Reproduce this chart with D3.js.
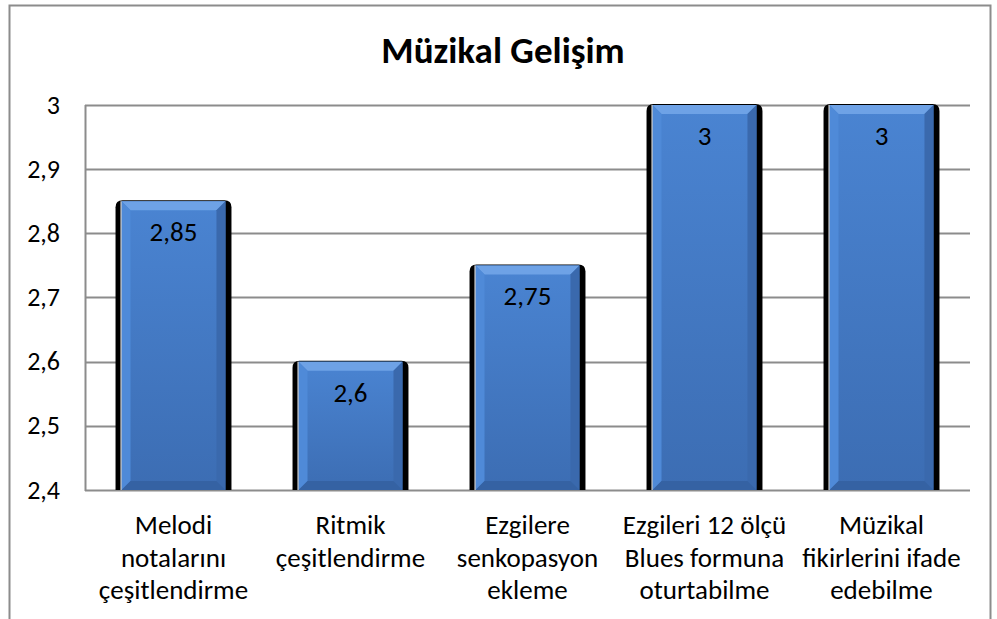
<!DOCTYPE html>
<html>
<head>
<meta charset="utf-8">
<script src="https://cdn.jsdelivr.net/npm/d3@7"></script>
<style>
	body { margin: 0; background: #fff; }
	text { font-family: Carlito, Lato, "Open Sans", sans-serif; }
</style>
</head>
<body>
<div id="chartHolder"></div>
<script>
var title = "Müzikal Gelişim";
var categories = [
	["Melodi", "notalarını", "çeşitlendirme"],
	["Ritmik", "çeşitlendirme"],
	["Ezgilere", "senkopasyon", "ekleme"],
	["Ezgileri 12 ölçü", "Blues formuna", "oturtabilme"],
	["Müzikal", "fikirlerini ifade", "edebilme"]
];
var values = [2.85, 2.6, 2.75, 3, 3];
var valueLabels = ["2,85", "2,6", "2,75", "3", "3"];
var yTicks = [2.4, 2.5, 2.6, 2.7, 2.8, 2.9, 3];
var yTickLabels = ["2,4", "2,5", "2,6", "2,7", "2,8", "2,9", "3"];

var width = 997;
var height = 619;
var plotLeft = 85;
var plotRight = 970;
var plotTop = 105;
var plotBottom = 490;
var fontSize = 27;

var svg = d3.select("#chartHolder")
				.append("svg")
				.attr("width", width + "px")
				.attr("height", height + "px");

var defs = svg.append("defs");
var grad = defs.append("linearGradient")
				.attr("id", "barFill")
				.attr("x1", 0).attr("y1", 0)
				.attr("x2", 0).attr("y2", 1);
grad.append("stop").attr("offset", "0%").attr("stop-color", "#4a84d2");
grad.append("stop").attr("offset", "100%").attr("stop-color", "#3c6db3");

// outer frame
svg.append("rect")
	.attr("x", 9.5)
	.attr("y", 5.5)
	.attr("width", 981)
	.attr("height", 640)
	.attr("fill", "none")
	.attr("stroke", "#8c8c8c")
	.attr("stroke-width", 2);

svg.append("text")
	.attr("text-anchor", "middle")
	.style("font-size", 37 + "px")
	.style("font-weight", "bold")
	.attr("x", 503)
	.attr("y", 63)
	.attr("fill", "#000")
	.text(title);

var x = d3.scaleBand()
			.domain(d3.range(values.length))
			.range([plotLeft, plotRight])
			.paddingInner(0.345)
			.paddingOuter(0.1725);

var y = d3.scaleLinear()
			.domain([2.4, 3])
			.range([plotBottom, plotTop]);

// gridlines
svg.append("g")
	.selectAll("line")
	.data(yTicks)
	.enter()
	.append("line")
	.attr("x1", plotLeft)
	.attr("x2", plotRight)
	.attr("y1", function(d){ return Math.round(y(d)) + 0.5; })
	.attr("y2", function(d){ return Math.round(y(d)) + 0.5; })
	.attr("stroke", "#8c8c8c")
	.attr("stroke-width", 2);

svg.append("line")
	.attr("x1", plotLeft + 0.5)
	.attr("x2", plotLeft + 0.5)
	.attr("y1", plotTop)
	.attr("y2", plotBottom + 1)
	.attr("stroke", "#8c8c8c")
	.attr("stroke-width", 2);

svg.append("g")
	.selectAll("text")
	.data(yTicks)
	.enter()
	.append("text")
	.attr("text-anchor", "end")
	.style("font-size", 26 + "px")
	.attr("x", 60)
	.attr("y", function(d){ return y(d) + 8.5; })
	.attr("fill", "#000")
	.text(function(d, i){ return yTickLabels[i]; });

// bars
var edge = 6;
var bev = 9;
var bars = svg.append("g")
				.selectAll("g")
				.data(values)
				.enter()
				.append("g");

bars.each(function(d, i){
	var g = d3.select(this);
	var x0 = x(i) + edge;
	var w = x.bandwidth() - edge * 2;
	var top = y(d);
	var bottom = y(2.4);
	var r = 7;
	var sx = x(i);
	var sw = x.bandwidth();
	var st = top - 1;

	// dark shadow behind the bar
	g.append("path")
		.attr("d", "M" + sx + "," + bottom +
			"L" + sx + "," + (st + r) +
			"Q" + sx + "," + st + " " + (sx + r) + "," + st +
			"L" + (sx + sw - r) + "," + st +
			"Q" + (sx + sw) + "," + st + " " + (sx + sw) + "," + (st + r) +
			"L" + (sx + sw) + "," + bottom + "Z")
		.attr("fill", "#000");

	g.append("rect")
		.attr("x", x0)
		.attr("y", top)
		.attr("width", w)
		.attr("height", bottom - top)
		.attr("fill", "url(#barFill)");

	// bevel edges
	g.append("polygon")
		.attr("points", [[x0, top], [x0 + w, top], [x0 + w - bev, top + bev], [x0 + bev, top + bev]].join(" "))
		.attr("fill", "#6ea2e6");
	g.append("polygon")
		.attr("points", [[x0, top], [x0 + bev, top + bev], [x0 + bev, bottom - bev], [x0, bottom]].join(" "))
		.attr("fill", "#4f8ad8");
	g.append("polygon")
		.attr("points", [[x0 + w, top], [x0 + w - bev, top + bev], [x0 + w - bev, bottom - bev], [x0 + w, bottom]].join(" "))
		.attr("fill", "#3a69ad");
	g.append("polygon")
		.attr("points", [[x0, bottom], [x0 + bev, bottom - bev], [x0 + w - bev, bottom - bev], [x0 + w, bottom]].join(" "))
		.attr("fill", "#3562a3");

	g.append("line")
		.attr("x1", x0 - 0.5).attr("x2", x0 - 0.5)
		.attr("y1", top).attr("y2", bottom)
		.attr("stroke", "#fff")
		.attr("stroke-width", 1);

	g.append("text")
		.attr("text-anchor", "middle")
		.style("font-size", fontSize + "px")
		.attr("x", x(i) + x.bandwidth() / 2)
		.attr("y", top + 40)
		.attr("fill", "#000")
		.text(valueLabels[i]);
});

// category labels
svg.append("g")
	.selectAll("text")
	.data(categories)
	.enter()
	.append("text")
	.attr("text-anchor", "middle")
	.style("font-size", fontSize + "px")
	.attr("fill", "#000")
	.attr("x", function(d, i){ return x(i) + x.bandwidth() / 2; })
	.attr("y", 534)
	.each(function(d, i){
		var t = d3.select(this);
		var cx = x(i) + x.bandwidth() / 2;
		d.forEach(function(line, j){
			t.append("tspan")
				.attr("x", cx)
				.attr("dy", j == 0 ? 0 : 32.5)
				.text(line);
		});
	});
</script>
</body>
</html>
